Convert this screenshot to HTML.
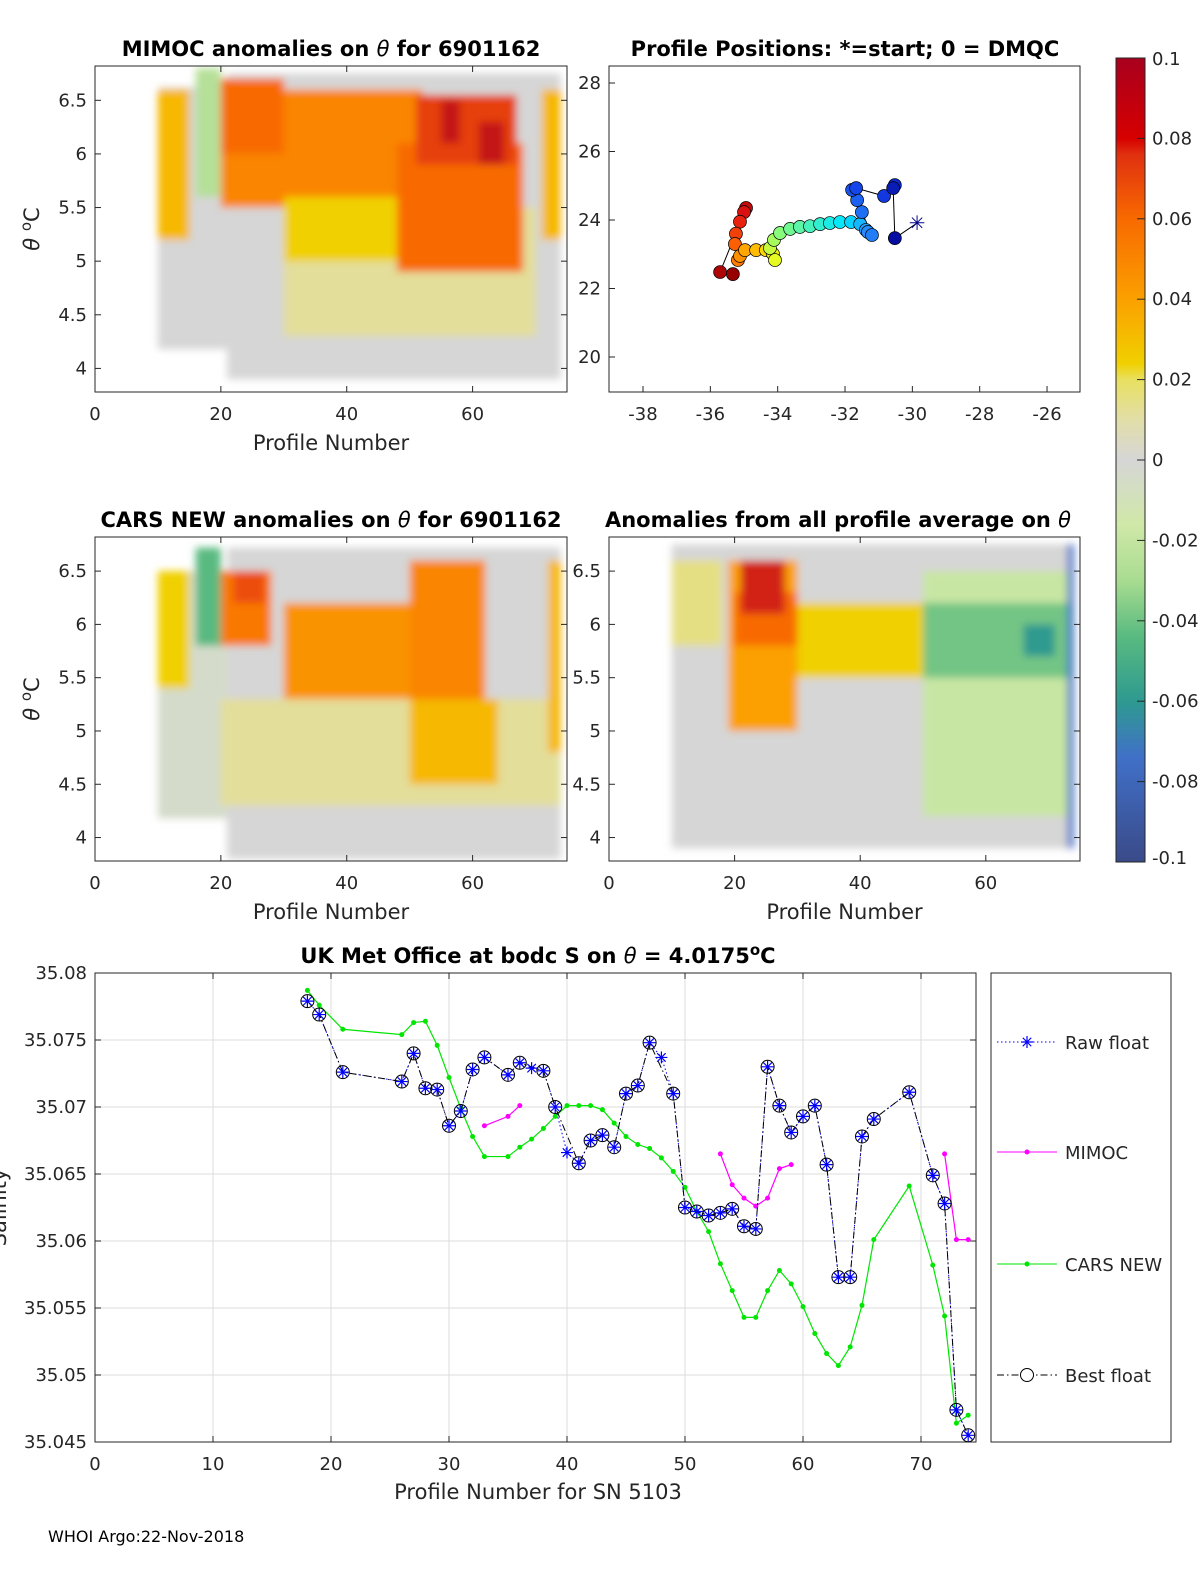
<!DOCTYPE html>
<html><head><meta charset="utf-8"><style>
html,body{margin:0;padding:0;background:#fff}
svg{display:block}
text{font-family:"DejaVu Sans","Liberation Sans",sans-serif;fill:#262626}
.t{font-weight:bold;font-size:21px;fill:#000}
.tk{font-size:18px}
.al{font-size:21px}
</style></head><body>
<svg id="fig" width="1200" height="1575" viewBox="0 0 1200 1575">
<defs><filter id="bl" x="-5%" y="-5%" width="110%" height="110%"><feGaussianBlur stdDeviation="4"/></filter>
<linearGradient id="cb" x1="0" y1="0" x2="0" y2="1">
<stop offset="0" stop-color="#a8001e"/><stop offset="0.1" stop-color="#d60000"/><stop offset="0.12" stop-color="#e03010"/>
<stop offset="0.2" stop-color="#f86a00"/><stop offset="0.3" stop-color="#fba000"/><stop offset="0.38" stop-color="#f0d000"/>
<stop offset="0.4" stop-color="#e8e060"/><stop offset="0.45" stop-color="#e2dea8"/><stop offset="0.5" stop-color="#d6d6d6"/>
<stop offset="0.58" stop-color="#d0e8a8"/><stop offset="0.65" stop-color="#a8dc90"/><stop offset="0.72" stop-color="#58ba80"/>
<stop offset="0.8" stop-color="#2e9a90"/><stop offset="0.87" stop-color="#4070c8"/><stop offset="1" stop-color="#3a4a88"/>
</linearGradient></defs>
<g id="p1"></g>
<g id="p2"></g>
<g id="p3"></g>
<g id="p4"></g>
<g id="cbar"></g>
<g id="p5"></g>
<text x="48" y="1542" font-size="16" style="fill:#000">WHOI Argo:22-Nov-2018</text>
</svg>
<script>
// ---- bottom chart data ----
const profiles = [18,19,21,26,27,28,29,30,31,32,33,35,36,37,38,39,40,41,42,43,44,45,46,47,48,49,50,51,52,53,54,55,56,57,58,59,60,61,62,63,64,65,66,69,71,72,73,74];
const rawFloat = [35.0779,35.0769,35.0726,35.0719,35.0740,35.0714,35.0713,35.0686,35.0697,35.0728,35.0737,35.0724,35.0733,35.0729,35.0727,35.0700,35.0666,35.0658,35.0675,35.0679,35.0670,35.0710,35.0716,35.0748,35.0737,35.0710,35.0625,35.0622,35.0619,35.0621,35.0624,35.0611,35.0609,35.0730,35.0701,35.0681,35.0693,35.0701,35.0657,35.0573,35.0573,35.0678,35.0691,35.0711,35.0649,35.0628,35.0474,35.0455];
const bestFloat = [35.0779,35.0769,35.0726,35.0719,35.0740,35.0714,35.0713,35.0686,35.0697,35.0728,35.0737,35.0724,35.0733,null,35.0727,35.0700,null,35.0658,35.0675,35.0679,35.0670,35.0710,35.0716,35.0748,null,35.0710,35.0625,35.0622,35.0619,35.0621,35.0624,35.0611,35.0609,35.0730,35.0701,35.0681,35.0693,35.0701,35.0657,35.0573,35.0573,35.0678,35.0691,35.0711,35.0649,35.0628,35.0474,35.0455];
const carsNew = [35.0787,35.0776,35.0758,35.0754,35.0763,35.0764,35.0746,35.0722,35.0699,35.0678,35.0663,35.0663,35.0670,35.0676,35.0684,35.0693,35.0701,35.0701,35.0701,35.0698,35.0688,35.0678,35.0672,35.0669,35.0662,35.0652,35.0640,35.0622,35.0607,35.0583,35.0563,35.0543,35.0543,35.0563,35.0578,35.0568,35.0551,35.0531,35.0516,35.0507,35.0521,35.0552,35.0601,35.0641,35.0582,35.0544,35.0464,35.0470];
const mimocX = [[33,35,36],[53,54,55,56,57,58,59],[72,73,74]];
const mimocY = [[35.0686,35.0693,35.0701],[35.0665,35.0642,35.0632,35.0626,35.0632,35.0654,35.0657],[35.0665,35.0601,35.0601]];
const xTicks5 = [0,10,20,30,40,50,60,70];
const yTicks5 = [35.045,35.05,35.055,35.06,35.065,35.07,35.075,35.08];
const yTickLabels5 = ["35.045","35.05","35.055","35.06","35.065","35.07","35.075","35.08"];
// ---- map data ----
const mapLon = [-29.86,-30.52,-30.57,-30.52,-30.84,-31.67,-31.79,-31.64,-31.50,-31.20,-31.32,-31.38,-31.55,-31.82,-32.15,-32.45,-32.74,-33.04,-33.34,-33.63,-33.93,-34.11,-34.23,-34.08,-34.14,-34.35,-34.64,-34.97,-35.12,-35.18,-35.27,-35.24,-35.12,-35.00,-34.94,-35.71,-35.33];
const mapLat = [23.91,23.47,24.93,25.02,24.70,24.93,24.88,24.58,24.23,23.56,23.65,23.71,23.88,23.94,23.94,23.91,23.88,23.82,23.80,23.74,23.62,23.42,23.18,22.83,23.01,23.12,23.12,23.12,22.95,22.83,23.30,23.60,23.95,24.23,24.35,22.48,22.42];
// ---- heatmap blocks [x0,x1,theta0,theta1,anomaly] ----
const mimocBlocks = [[10,21,4.18,6.62,0.0],[21,74,3.9,6.75,0.0],[30,70,4.3,5.5,0.012],[10,15,5.2,6.6,0.035],[16,20,5.6,6.8,-0.025],[20,52,5.5,6.6,0.05],[20,30,6.0,6.7,0.06],[30,48,5.0,5.6,0.03],[48,68,4.9,6.1,0.06],[51,67,5.9,6.55,0.075],[55,58,6.1,6.5,0.09],[61,65,5.9,6.3,0.09],[71,74,5.2,6.6,0.035]];
const carsBlocks = [[10,21,4.18,6.5,-0.004],[21,74,3.8,6.72,0.0],[20,74,4.3,5.3,0.012],[10,15,5.4,6.5,0.03],[16,20,5.8,6.72,-0.045],[20,28,5.8,6.5,0.055],[22,27,6.2,6.5,0.07],[30,50,5.3,6.2,0.045],[50,62,5.3,6.6,0.05],[50,64,4.5,5.3,0.035],[72,74,4.8,6.6,0.035]];
const avgBlocks = [[10,74,3.9,6.75,0.0],[10,18,5.8,6.6,0.015],[19,30,5.0,6.6,0.04],[20,30,5.8,6.3,0.06],[21,28,6.1,6.6,0.085],[30,50,5.5,6.2,0.03],[50,74,4.2,6.5,-0.018],[50,74,5.5,6.2,-0.04],[66,71,5.7,6.0,-0.06],[73,74,3.9,6.75,-0.075]];
const thetaTicks = [4,4.5,5,5.5,6,6.5];
const profTicks = [0,20,40,60];

const NS='http://www.w3.org/2000/svg';
function mk(parent,tag,attrs,txt){const e=document.createElementNS(NS,tag);for(const k in attrs)e.setAttribute(k,attrs[k]);if(txt!==undefined)e.textContent=txt;parent.appendChild(e);return e;}
function cmap(v){const stops=[[0.1,[168,0,30]],[0.08,[224,48,16]],[0.06,[248,106,0]],[0.04,[251,160,0]],[0.03,[240,208,0]],[0.02,[232,224,96]],[0.01,[226,222,168]],[0,[214,214,214]],[-0.015,[208,232,168]],[-0.03,[168,220,144]],[-0.045,[88,186,128]],[-0.06,[46,154,144]],[-0.075,[64,112,200]],[-0.1,[58,74,136]]];
 v=Math.max(-0.1,Math.min(0.1,v));for(let i=0;i<stops.length-1;i++){const a=stops[i],b=stops[i+1];if(v<=a[0]&&v>=b[0]){const t=(a[0]-v)/(a[0]-b[0]);const c=a[1].map((x,j)=>Math.round(x+(b[1][j]-x)*t));return `rgb(${c})`;}}return '#d6d6d6';}

function heatPanel(g,L,R,T,B,yTop,yBot,blocks,title,titleX,showYlabel,showXlabel){
 const sx=v=>L+(v-0)/(75)*(R-L)*(75/75)*1;const sxx=v=>L+v*(R-L)/75;const sy=t=>T+(yTop-t)/(yTop-yBot)*(B-T);
 const clip='c'+g.id;const cp=mk(document.querySelector('defs'),'clipPath',{id:clip});mk(cp,'rect',{x:L,y:T,width:R-L,height:B-T});
 const hg=mk(g,'g',{'clip-path':`url(#${clip})`});const bg=mk(hg,'g',{filter:'url(#bl)'});
 blocks.forEach((b,i)=>{const r=mk(bg,'rect',{x:sxx(b[0]),y:sy(b[3]),width:sxx(b[1])-sxx(b[0]),height:sy(b[2])-sy(b[3]),fill:cmap(b[4])});
  
  });
 mk(g,'rect',{x:L,y:T,width:R-L,height:B-T,fill:'none',stroke:'#262626','stroke-width':1});
 thetaTicks.forEach(t=>{const y=sy(t);mk(g,'line',{x1:L,x2:L+6,y1:y,y2:y,stroke:'#262626'});mk(g,'line',{x1:R,x2:R-6,y1:y,y2:y,stroke:'#262626'});
  const tx=mk(g,'text',{x:L-8,y:y+6,'text-anchor':'end',class:'tk'},String(t));});
 profTicks.forEach(p=>{const x=sxx(p);mk(g,'line',{x1:x,x2:x,y1:B,y2:B-6,stroke:'#262626'});mk(g,'line',{x1:x,x2:x,y1:T,y2:T+6,stroke:'#262626'});
  const tx=mk(g,'text',{x:x,y:B+28,'text-anchor':'middle',class:'tk'},String(p));});
 const tt=mk(g,'text',{x:titleX,y:T-10,'text-anchor':'middle',class:'t'});tt.innerHTML=title;
 if(showXlabel){const xl=mk(g,'text',{x:(L+R)/2,y:B+58,'text-anchor':'middle',class:'al'},'Profile Number');}
 if(showYlabel){const yl=mk(g,'text',{x:0,y:0,'text-anchor':'middle',class:'al',transform:`translate(${L-56},${(T+B)/2}) rotate(-90)`});yl.innerHTML='<tspan font-style="italic">θ</tspan> <tspan dy="-8" font-size="15">o</tspan><tspan dy="8">C</tspan>';}
}
heatPanel(document.getElementById('p1'),95,567,66,392,6.82,3.78,mimocBlocks,'MIMOC anomalies on <tspan font-style="italic" font-weight="normal">θ</tspan>  for 6901162',331,true,true);
heatPanel(document.getElementById('p3'),95,567,537,861,6.82,3.78,carsBlocks,'CARS NEW anomalies on <tspan font-style="italic" font-weight="normal">θ</tspan> for 6901162',331,true,true);
heatPanel(document.getElementById('p4'),609,1080,537,861,6.82,3.78,avgBlocks,'Anomalies from all profile average on <tspan font-style="italic" font-weight="normal">θ</tspan>',838,false,true);

// map panel
(function(){const g=document.getElementById('p2');const L=609,R=1080,T=66,B=392;
 const sx=v=>643+(v+38)*33.67;const sy=v=>83+(28-v)*34.25;
 mk(g,'rect',{x:L,y:T,width:R-L,height:B-T,fill:'#fff',stroke:'#262626'});
 [-38,-36,-34,-32,-30,-28,-26].forEach(v=>{const x=sx(v);mk(g,'line',{x1:x,x2:x,y1:B,y2:B-6,stroke:'#262626'});
  const t=mk(g,'text',{x:x,y:B+28,'text-anchor':'middle',class:'tk'},String(v));});
 [20,22,24,26,28].forEach(v=>{const y=sy(v);mk(g,'line',{x1:L,x2:L+6,y1:y,y2:y,stroke:'#262626'});
  const t=mk(g,'text',{x:L-8,y:y+6,'text-anchor':'end',class:'tk'},String(v));});
 const tt=mk(g,'text',{x:845,y:56,'text-anchor':'middle',class:'t'},'Profile Positions: *=start; 0 = DMQC');
 const pts=mapLon.map((v,i)=>sx(v)+','+sy(mapLat[i])).join(' ');
 mk(g,'polyline',{points:pts,fill:'none',stroke:'#000','stroke-width':1});
 const n=mapLon.length;
 const jet=t=>{const s=[[0,[0,0,140]],[0.12,[20,60,230]],[0.3,[40,150,255]],[0.38,[0,230,255]],[0.55,[130,250,130]],[0.65,[240,250,20]],[0.72,[255,190,0]],[0.82,[255,110,0]],[0.9,[230,20,20]],[1,[150,0,0]]];for(let i=0;i<s.length-1;i++){if(t<=s[i+1][0]){const u=(t-s[i][0])/(s[i+1][0]-s[i][0]);return `rgb(${s[i][1].map((x,j)=>Math.round(x+(s[i+1][1][j]-x)*u))})`;}}return 'rgb(150,0,0)';};
 for(let i=n-1;i>=1;i--){const c=mk(g,'circle',{cx:sx(mapLon[i]),cy:sy(mapLat[i]),r:6.5,fill:jet(i/(n-1)),stroke:'#000','stroke-width':0.7});
  
  }
 const s=mk(g,'text',{x:sx(mapLon[0]),y:sy(mapLat[0])+7,'text-anchor':'middle','font-size':20,style:'fill:#00008c'},'✳');
 
 
})();

// colorbar
(function(){const g=document.getElementById('cbar');const T=58,B=862,L=1116,W=29;
 mk(g,'rect',{x:L,y:T,width:W,height:B-T,fill:'url(#cb)',stroke:'#262626'});
 [0.1,0.08,0.06,0.04,0.02,0,-0.02,-0.04,-0.06,-0.08,-0.1].forEach(v=>{const y=T+(0.1-v)/0.2*(B-T);
  mk(g,'line',{x1:L+W-8,x2:L+W,y1:y,y2:y,stroke:'#262626'});
  const t=mk(g,'text',{x:1152,y:y+(v===0.1?7:v===-0.1?2:6),class:'tk','font-size':17},String(v));});
})();

// bottom chart
(function(){const g=document.getElementById('p5');const L=95,R=976,T=973,B=1442;
 const sx=v=>L+v*11.8;const sy=v=>T+(35.08-v)/0.035*(B-T);
 mk(g,'rect',{x:L,y:T,width:R-L,height:B-T,fill:'#fff'});
 xTicks5.forEach(v=>{const x=sx(v);if(v>0)mk(g,'line',{x1:x,x2:x,y1:T,y2:B,stroke:'#dcdcdc'});
  mk(g,'line',{x1:x,x2:x,y1:B,y2:B-6,stroke:'#262626'});mk(g,'line',{x1:x,x2:x,y1:T,y2:T+6,stroke:'#262626'});
  const t=mk(g,'text',{x:x,y:B+28,'text-anchor':'middle',class:'tk'},String(v));});
 yTicks5.forEach((v,i)=>{const y=sy(v);mk(g,'line',{x1:L,x2:R,y1:y,y2:y,stroke:'#dcdcdc'});
  mk(g,'line',{x1:L,x2:L+6,y1:y,y2:y,stroke:'#262626'});mk(g,'line',{x1:R,x2:R-6,y1:y,y2:y,stroke:'#262626'});
  const t=mk(g,'text',{x:L-8,y:y+6,'text-anchor':'end',class:'tk'},yTickLabels5[i]);});
 mk(g,'rect',{x:L,y:T,width:R-L,height:B-T,fill:'none',stroke:'#262626'});
 const tt=mk(g,'text',{x:538,y:963,'text-anchor':'middle',class:'t'});tt.innerHTML='UK Met Office at bodc S on <tspan font-style="italic" font-weight="normal">θ</tspan> = 4.0175<tspan dy="-8" font-size="15">o</tspan><tspan dy="8">C</tspan>';
 const xl=mk(g,'text',{x:538,y:1499,'text-anchor':'middle',class:'al'},'Profile Number for SN 5103');
 const yl=mk(g,'text',{x:0,y:0,'text-anchor':'middle',class:'al',transform:`translate(6,${(T+B)/2}) rotate(-90)`},'Salinity');
 // CARS
 mk(g,'polyline',{points:profiles.map((p,i)=>sx(p)+','+sy(carsNew[i])).join(' '),fill:'none',stroke:'#00e600','stroke-width':1.2});
 profiles.forEach((p,i)=>{const c=mk(g,'circle',{cx:sx(p),cy:sy(carsNew[i]),r:2.5,fill:'#00e600'});});
 // MIMOC
 mimocX.forEach((xs,k)=>{mk(g,'polyline',{points:xs.map((p,i)=>sx(p)+','+sy(mimocY[k][i])).join(' '),fill:'none',stroke:'#ff00ff','stroke-width':1.2});
  xs.forEach((p,i)=>{const c=mk(g,'circle',{cx:sx(p),cy:sy(mimocY[k][i]),r:2.5,fill:'#ff00ff'});});});
 // raw
 mk(g,'polyline',{points:profiles.map((p,i)=>sx(p)+','+sy(rawFloat[i])).join(' '),fill:'none',stroke:'#0000ff','stroke-width':1,'stroke-dasharray':'1.5,2.5'});
 // best
 const bp=[];profiles.forEach((p,i)=>{if(bestFloat[i]!==null)bp.push(sx(p)+','+sy(bestFloat[i]));});
 mk(g,'polyline',{points:bp.join(' '),fill:'none',stroke:'#000','stroke-width':1,'stroke-dasharray':'7,3,1.5,3'});
 const star=(x,y,s)=>{let d='';for(let a=0;a<4;a++){const an=a*Math.PI/4;d+=`M${x-s*Math.cos(an)},${y-s*Math.sin(an)}L${x+s*Math.cos(an)},${y+s*Math.sin(an)}`;}return d;};
 profiles.forEach((p,i)=>{const st=mk(g,'path',{d:star(sx(p),sy(rawFloat[i]),6),stroke:'#0000ff','stroke-width':1.2,fill:'none'});
  if(bestFloat[i]!==null){const c=mk(g,'circle',{cx:sx(p),cy:sy(bestFloat[i]),r:6.5,fill:'none',stroke:'#000','stroke-width':1});}});
 // legend
 const lg=mk(g,'g',{});
 mk(lg,'rect',{x:991,y:973,width:180,height:469,fill:'#fff',stroke:'#262626'});
 const ents=[['Raw float',1042],['MIMOC',1152],['CARS NEW',1264],['Best float',1375]];
 ents.forEach((e,k)=>{const y=e[1];const eg=mk(lg,'g',{});
  if(k===0){mk(eg,'line',{x1:997,x2:1057,y1:y,y2:y,stroke:'#0000ff','stroke-dasharray':'1.5,2.5'});mk(eg,'path',{d:star(1027,y,6),stroke:'#0000ff','stroke-width':1.2});}
  if(k===1){mk(eg,'line',{x1:997,x2:1057,y1:y,y2:y,stroke:'#ff00ff'});mk(eg,'circle',{cx:1027,cy:y,r:2.5,fill:'#ff00ff'});}
  if(k===2){mk(eg,'line',{x1:997,x2:1057,y1:y,y2:y,stroke:'#00e600'});mk(eg,'circle',{cx:1027,cy:y,r:2.5,fill:'#00e600'});}
  if(k===3){mk(eg,'line',{x1:997,x2:1057,y1:y,y2:y,stroke:'#000','stroke-dasharray':'7,3,1.5,3'});mk(eg,'circle',{cx:1027,cy:y,r:6.5,fill:'#fff',stroke:'#000'});}
  mk(eg,'text',{x:1065,y:y+7,class:'tk'},e[0]);});
})();
</script>
</body></html>
